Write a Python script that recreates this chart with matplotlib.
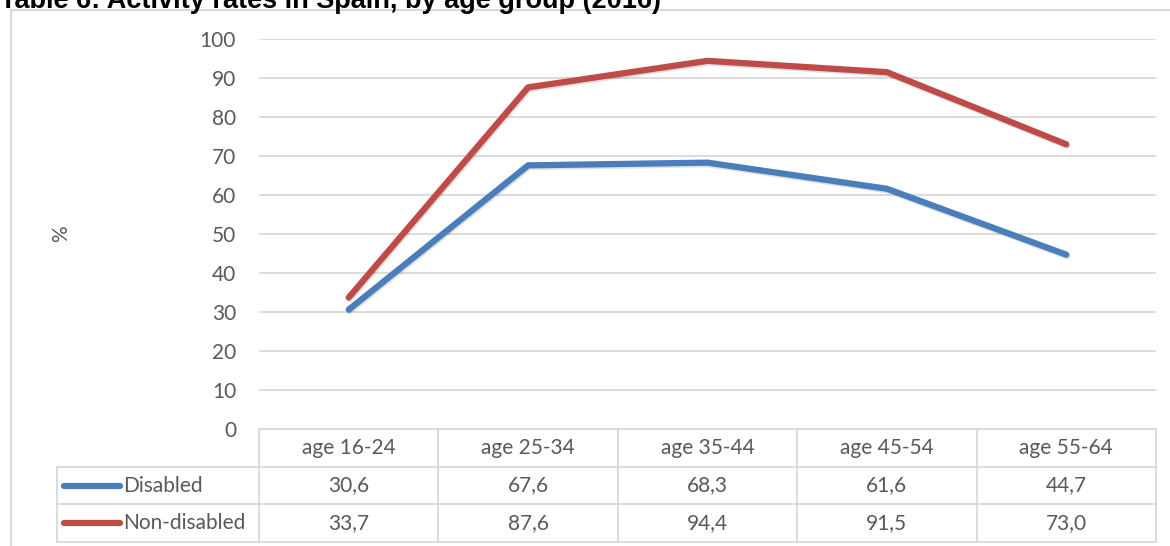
import matplotlib
matplotlib.use("Agg")
import matplotlib.pyplot as plt
import matplotlib.patheffects as pe
from matplotlib.lines import Line2D
from matplotlib.transforms import blended_transform_factory

categories = ["age 16-24", "age 25-34", "age 35-44", "age 45-54", "age 55-64"]
disabled = [30.6, 67.6, 68.3, 61.6, 44.7]
non_disabled = [33.7, 87.6, 94.4, 91.5, 73.0]
series_names = ["Disabled", "Non-disabled"]
series_colors = ["#4A7EBB", "#BE4B48"]
yticks = list(range(0, 101, 10))
title = "Table 6: Activity rates in Spain, by age group (2016)"

W, H = 1170, 546
fig = plt.figure(figsize=(W / 100, H / 100), dpi=100)
FONT = "Lato"
FS = 15
TXT = "#595959"
GRID = "#D9D9D9"

# plot area (pixels): x 259..1156, y 39..429
L, R, T, B = 259, 1156, 39, 429
ax = fig.add_axes([L / W, 1 - B / H, (R - L) / W, (B - T) / H])
ax.set_xlim(-0.5, len(categories) - 0.5)
ax.set_ylim(0, 100)
ax.set_yticks(yticks)
ax.set_yticklabels([str(v) for v in yticks], fontfamily=FONT, fontsize=FS, color=TXT)
ax.tick_params(axis="y", length=0, pad=16.5)
ax.set_xticks([])
for s in ax.spines.values():
    s.set_visible(False)
ax.grid(axis="y", color=GRID, linewidth=1.3)
ax.set_axisbelow(True)

x = list(range(len(categories)))
for vals, col in zip([disabled, non_disabled], series_colors):
    ax.plot(x, vals, color=col, linewidth=4.5, solid_capstyle="round",
            solid_joinstyle="round", zorder=3,
            path_effects=[pe.SimpleLineShadow(offset=(0.7, -1.2), alpha=0.12, shadow_color="#000000"),
                          pe.Normal()])

# data table below
ax_h = B - T
row_y = [0, -38 / ax_h, -75 / ax_h, -113 / ax_h]
leg_left = (57 - L) / (R - L)
bt = blended_transform_factory(ax.transData, ax.transAxes)
at = ax.transAxes

def hline(x0, x1, y, tr):
    ax.add_line(Line2D([x0, x1], [y, y], transform=tr, color=GRID, lw=1.3, clip_on=False))

def vline(xv, y0, y1, tr):
    ax.add_line(Line2D([xv, xv], [y0, y1], transform=tr, color=GRID, lw=1.3, clip_on=False))

hline(0, 1, row_y[0], at)
for y in row_y[1:]:
    hline(leg_left, 1, y, at)
vline(leg_left, row_y[1], row_y[3], at)
for i in range(len(categories) + 1):
    vline(i - 0.5, row_y[0], row_y[3], bt)

for i, c in enumerate(categories):
    ax.text(i, (row_y[0] + row_y[1]) / 2, c, transform=bt, ha="center", va="center",
            fontfamily=FONT, fontsize=FS, color=TXT)
for r, (vals, name, col) in enumerate(zip([disabled, non_disabled], series_names, series_colors)):
    yc = (row_y[r + 1] + row_y[r + 2]) / 2
    for i, v in enumerate(vals):
        ax.text(i, yc, f"{v:.1f}".replace(".", ","), transform=bt, ha="center", va="center",
                fontfamily=FONT, fontsize=FS, color=TXT)
    lx0 = (64 - L) / (R - L)
    lx1 = (120 - L) / (R - L)
    ax.add_line(Line2D([lx0, lx1], [yc, yc], transform=at, color=col, lw=4.5,
                       solid_capstyle="round", clip_on=False))
    ax.text((123 - L) / (R - L), yc, name, transform=at, ha="left", va="center",
            fontfamily=FONT, fontsize=FS, color=TXT)

# axis title
fig.text(61 / W, 1 - 234 / H, "%", rotation=90, ha="center", va="center",
         fontfamily=FONT, fontsize=FS, color=TXT)

# outer chart frame
fig.add_artist(Line2D([11 / W, 11 / W], [0, 1 - 10 / H], transform=fig.transFigure, color=GRID, lw=1.5))
fig.add_artist(Line2D([11 / W, 1], [1 - 10 / H, 1 - 10 / H], transform=fig.transFigure, color=GRID, lw=1.5))

# title (cut off at top in reference)
fig.text(0, 1 - 8 / H, title, ha="left", va="baseline", fontfamily="Liberation Sans",
         fontweight="bold", fontsize=19.5, color="#000000")

fig.savefig("out.png", dpi=100, facecolor="white")
